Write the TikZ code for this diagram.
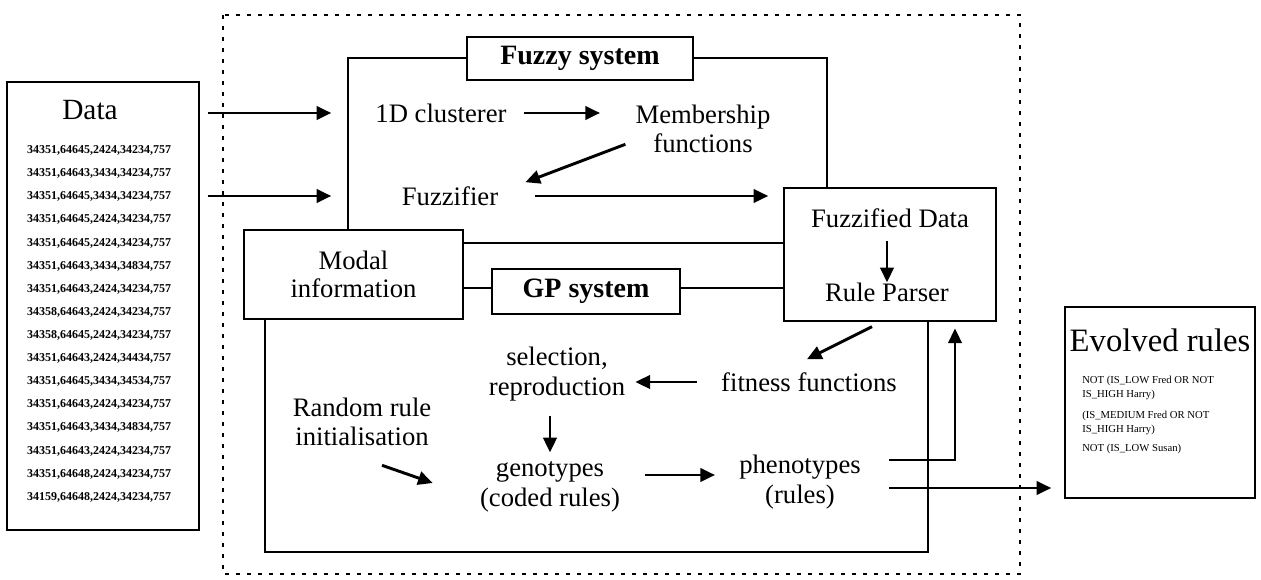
\documentclass[tikz,border=0pt]{standalone}
\usepackage{fontspec}
\setmainfont{Liberation Serif}
\usetikzlibrary{arrows.meta}
\begin{document}
\begin{tikzpicture}[x=0.75pt,y=-0.75pt,
  frame/.style={draw, line width=1.1pt, inner sep=0pt},
  box/.style={draw, line width=1.1pt, fill=white, inner sep=0pt},
  lbl/.style={font=\fontsize{20}{22}\selectfont, align=center, inner sep=0pt},
  blbl/.style={font=\fontsize{21}{24}\selectfont\bfseries, align=center},
  arr/.style={line width=2.2pt, -{Triangle[length=11pt,width=10pt]}},
  dat/.style={font=\fontsize{9}{10}\selectfont\bfseries, inner sep=0pt},
  rul/.style={font=\fontsize{8}{9.5}\selectfont, inner sep=0pt, anchor=base west, align=left}]
\useasboundingbox (0,0) rectangle (1261,580);

% outer dotted boundary
\draw[line width=2.2pt, dash pattern=on 3pt off 5.25pt] (223,15) rectangle (1020,574);

% frames of the two systems
\node[frame, minimum width=359.25pt, minimum height=138.75pt] (fz) at (587.5,150.5) {};
\node[frame, minimum width=497.25pt, minimum height=198pt] (gp) at (596.5,420) {};

% boxes
\node[box, minimum width=144pt, minimum height=336pt] (data) at (103,306) {};
\node[lbl, font=\fontsize{22}{24}\selectfont] (datat) at (90,110) {Data};
\node[box, minimum width=169.5pt, minimum height=32.25pt, blbl] (fzl) at (580,58.5) {Fuzzy system};
\node[box, minimum width=164.25pt, minimum height=66.75pt, lbl] (modal) at (353.5,274.5) {Modal\\[-0.5pt]information};
\node[box, minimum width=141pt, minimum height=33.75pt, blbl] (gpl) at (586,291.5) {GP system};
\node[box, minimum width=159pt, minimum height=99.75pt] (rp) at (890,254.5) {};
\node[lbl] (fd) at (890,218) {Fuzzified Data};
\node[lbl] (rpt) at (887,292) {Rule Parser};
\node[box, minimum width=142.5pt, minimum height=143.25pt] (ev) at (1160,402.5) {};
\node[lbl, font=\fontsize{24.5}{26}\selectfont] (evt) at (1160,340) {Evolved rules};
\node[rul] (r1) at (1082,384) {NOT (IS\_LOW Fred OR NOT};
\node[rul] (r2) at (1082,398) {IS\_HIGH Harry)};
\node[rul] (r3) at (1082,419) {(IS\_MEDIUM Fred OR NOT};
\node[rul] (r4) at (1082,433) {IS\_HIGH Harry)};
\node[rul] (r5) at (1082,452) {NOT (IS\_LOW Susan)};

% data lines
\node[dat] (d1) at (99,150) {34351,64645,2424,34234,757};
\node[dat] (d2) at (99,173) {34351,64643,3434,34234,757};
\node[dat] (d3) at (99,196) {34351,64645,3434,34234,757};
\node[dat] (d4) at (99,219) {34351,64645,2424,34234,757};
\node[dat] (d5) at (99,243) {34351,64645,2424,34234,757};
\node[dat] (d6) at (99,266) {34351,64643,3434,34834,757};
\node[dat] (d7) at (99,289) {34351,64643,2424,34234,757};
\node[dat] (d8) at (99,312) {34358,64643,2424,34234,757};
\node[dat] (d9) at (99,335) {34358,64645,2424,34234,757};
\node[dat] (d10) at (99,358) {34351,64643,2424,34434,757};
\node[dat] (d11) at (99,381) {34351,64645,3434,34534,757};
\node[dat] (d12) at (99,404) {34351,64643,2424,34234,757};
\node[dat] (d13) at (99,427) {34351,64643,3434,34834,757};
\node[dat] (d14) at (99,451) {34351,64643,2424,34234,757};
\node[dat] (d15) at (99,474) {34351,64648,2424,34234,757};
\node[dat] (d16) at (99,497) {34159,64648,2424,34234,757};

% inner labels
\node[lbl] (clust) at (441,113) {1D clusterer};
\node[lbl] (memb) at (703,129) {Membership\\functions};
\node[lbl] (fuzz) at (450,196) {Fuzzifier};
\node[lbl] (sel) at (557,374) {selection,\\reproduction};
\node[lbl] (fit) at (809,382) {fitness functions};
\node[lbl] (rand) at (362,422) {Random rule\\initialisation};
\node[lbl] (geno) at (550,487) {genotypes\\(coded rules)};
\node[lbl] (pheno) at (800,482) {phenotypes\\(rules)};

% connectors
\draw[arr, shorten <=6pt, shorten >=12pt] (data.east |- clust) -- (fz.west |- clust);
\draw[arr, shorten <=6pt, shorten >=12pt] (data.east |- fuzz) -- (fz.west |- fuzz);
\draw[arr, shorten <=13pt, shorten >=26.5pt] (clust.east) -- (clust.east -| memb.west);
\draw[arr] ([shift={(-10,-9)}]memb.south west) -- ([shift={(27,-4)}]fuzz.north east);
\draw[arr, shorten <=27.75pt, shorten >=11.25pt] (fuzz.east) -- (fuzz.east -| rp.west);
\draw[arr, shorten <=9.75pt] (rpt.north |- fd.south) -- (rpt.north);
\draw[arr] ([shift={(-18,5)}]rp.south) -- ([shift={(-2,-13)}]fit.north);
\draw[arr, shorten <=18pt, shorten >=7.5pt] (fit.west) -- (fit.west -| sel.east);
\draw[arr, shorten <=11pt, shorten >=7pt] (sel.south -| geno.north) -- (geno.north);
\draw[arr] ([shift={(20,19)}]rand.south) -- ([shift={(-47,-4)}]geno.west);
\draw[arr, shorten >=18pt] ([shift={(25,-12)}]geno.east) -- ([shift={(0,-12)}]geno.east -| pheno.west);
\draw[arr, shorten >=5pt] ([shift={(28,-22)}]pheno.east) -| ([shift={(65,0)}]rp.south);
\draw[arr, shorten >=9.75pt] ([shift={(28,6)}]pheno.east) -- ([shift={(0,6)}]pheno.east -| ev.west);
\end{tikzpicture}
\end{document}
